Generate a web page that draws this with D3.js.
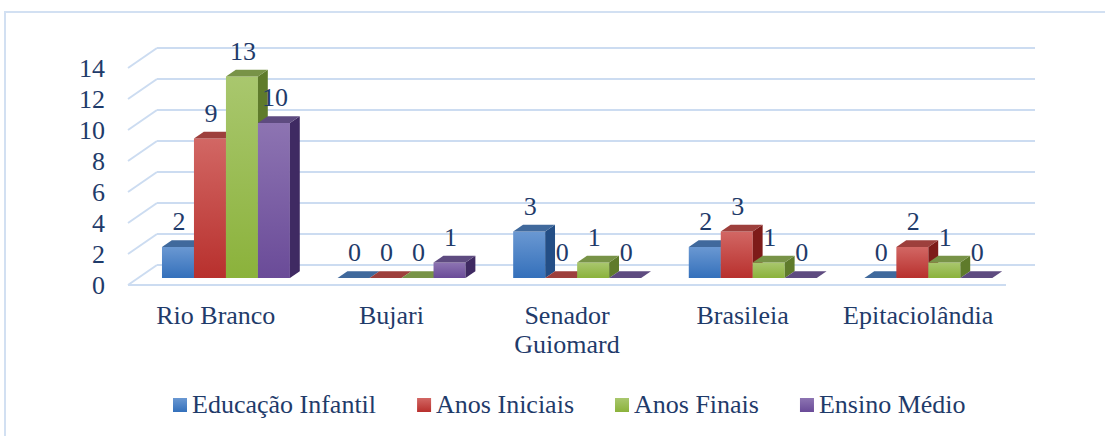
<!DOCTYPE html>
<html>
<head>
<meta charset="utf-8">
<script src="https://cdn.jsdelivr.net/npm/d3@7"></script>
<style>
  body { margin: 0; background: #fff; }
</style>
</head>
<body>
<script>
// data
const categories = ["Rio Branco", "Bujari", "Senador Guiomard", "Brasileia", "Epitaciolândia"];
const seriesNames = ["Educação Infantil", "Anos Iniciais", "Anos Finais", "Ensino Médio"];
const educacaoInfantil = [2, 0, 3, 2, 0];
const anosIniciais = [9, 0, 0, 3, 2];
const anosFinais = [13, 0, 1, 1, 1];
const ensinoMedio = [10, 1, 0, 0, 0];
const yTicks = [0, 2, 4, 6, 8, 10, 12, 14];

const seriesValues = [educacaoInfantil, anosIniciais, anosFinais, ensinoMedio];

// colours per series: front top, front bottom, side, top
const palette = [
    {light: "#6A98D2", dark: "#3470BB", side: "#234E86", top: "#40699C"},
    {light: "#D26764", dark: "#B8302D", side: "#7E1B19", top: "#9D3F3C"},
    {light: "#A9C76E", dark: "#8BB23B", side: "#5F7B2B", top: "#789347"},
    {light: "#8D74B2", dark: "#6A4B98", side: "#3F2A62", top: "#5E4B80"}
];

const FONT = "'Liberation Serif', Tinos, 'Times New Roman', 'DejaVu Serif', serif";
const TXT = "#1F3B6A";

const W = 1105, H = 436;
const svg = d3.select("body").append("svg").attr("width", W).attr("height", H)
    .attr("font-family", FONT);

// outer frame
svg.append("rect").attr("x", 5).attr("y", 12).attr("width", 1200).attr("height", 500)
    .attr("fill", "none").attr("stroke", "#D2E0F2").attr("stroke-width", 2);

// 3d geometry: front plane origin and depth offset
const x0 = 128, y0 = 285, plotW = 878;
const depthX = 29, depthY = -20;
const f1 = 0.35, f2 = 0.69; // bar front / back depth fraction

const y = d3.scaleLinear().domain([0, 14]).range([0, -217]);
const xBand = d3.scaleBand().domain(categories).range([0, plotW])
    .paddingInner(0.2714).paddingOuter(0.1357);
const xSub = d3.scaleBand().domain(seriesNames).range([0, xBand.bandwidth()]);

const defs = svg.append("defs");
palette.forEach((p, i) => {
    const g = defs.append("linearGradient").attr("id", "grad" + i)
        .attr("x1", 0).attr("y1", 0).attr("x2", 0).attr("y2", 1);
    g.append("stop").attr("offset", "0%").attr("stop-color", p.light);
    g.append("stop").attr("offset", "100%").attr("stop-color", p.dark);
});

// grid: back wall lines + left wall diagonals
const grid = svg.append("g").attr("stroke", "#CCDCF1").attr("stroke-width", 2).attr("fill", "none");
yTicks.forEach(t => {
    const yb = y0 + depthY + y(t);
    grid.append("line").attr("x1", x0 + depthX).attr("x2", x0 + depthX + plotW)
        .attr("y1", yb).attr("y2", yb);
    grid.append("line").attr("x1", x0).attr("y1", y0 + y(t))
        .attr("x2", x0 + depthX).attr("y2", yb);
});
// floor front edge
grid.append("line").attr("x1", x0).attr("x2", x0 + plotW).attr("y1", y0).attr("y2", y0);

// y labels on front plane
svg.append("g").selectAll("text").data(yTicks).join("text")
    .attr("x", 105).attr("y", d => y0 + y(d))
    .attr("dy", "0.35em").attr("text-anchor", "end")
    .attr("font-size", 26).attr("fill", TXT).text(d => d);

// bars
const bars = [];
categories.forEach((c, ci) => {
    seriesNames.forEach((s, si) => {
        bars.push({cat: c, series: s, si: si, value: seriesValues[si][ci]});
    });
});

const ddx = (f2 - f1) * depthX, ddy = (f2 - f1) * depthY;
const bw = xSub.bandwidth();
const barLayer = svg.append("g");

bars.forEach(d => {
    const fx = x0 + f1 * depthX + xBand(d.cat) + xSub(d.series);
    const fy = y0 + f1 * depthY;
    const h = -y(d.value);
    const p = palette[d.si];
    const g = barLayer.append("g");
    if (h > 0) {
        g.append("rect").attr("x", fx).attr("y", fy - h).attr("width", bw).attr("height", h)
            .attr("fill", "url(#grad" + d.si + ")");
        g.append("polygon")
            .attr("points", [[fx + bw, fy], [fx + bw, fy - h], [fx + bw + ddx, fy - h + ddy], [fx + bw + ddx, fy + ddy]].join(" "))
            .attr("fill", p.side);
    }
    g.append("polygon")
        .attr("points", [[fx, fy - h], [fx + bw, fy - h], [fx + bw + ddx, fy - h + ddy], [fx + ddx, fy - h + ddy]].join(" "))
        .attr("fill", p.top);
    d.lx = fx + bw / 2 + 1;
    d.ly = fy - h + ddy - 10;
});

// data labels
svg.append("g").selectAll("text").data(bars).join("text")
    .attr("x", d => d.lx).attr("y", d => d.ly)
    .attr("text-anchor", "middle").attr("font-size", 26).attr("fill", TXT)
    .text(d => d.value);

// category labels
const catG = svg.append("g");
categories.forEach(c => {
    const cx = x0 + xBand(c) + xBand.bandwidth() / 2;
    const words = c === "Senador Guiomard" ? ["Senador", "Guiomard"] : [c];
    const t = catG.append("text").attr("x", cx).attr("y", 324)
        .attr("text-anchor", "middle").attr("font-size", 26).attr("fill", TXT);
    words.forEach((w, i) => {
        t.append("tspan").attr("x", cx).attr("dy", i === 0 ? 0 : 29).text(w);
    });
});

// legend
const legend = svg.append("g");
let lx = 173;
seriesNames.forEach((s, i) => {
    legend.append("rect").attr("x", lx).attr("y", 398).attr("width", 14).attr("height", 14)
        .attr("fill", "url(#grad" + i + ")");
    const t = legend.append("text").attr("x", lx + 19).attr("y", 413)
        .attr("font-size", 26).attr("fill", TXT).text(s);
    lx += 19 + t.node().getComputedTextLength() + 41;
});
</script>
</body>
</html>
